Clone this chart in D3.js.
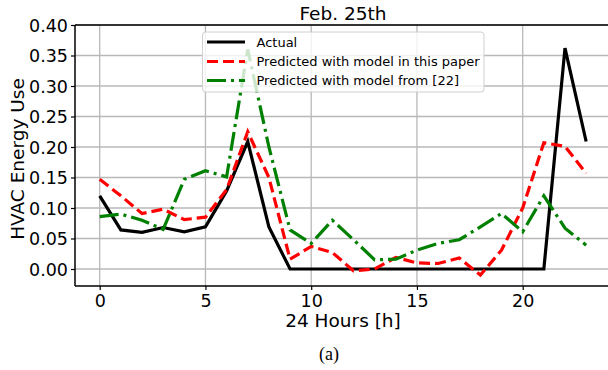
<!DOCTYPE html>
<html><head><meta charset="utf-8">
<script src="https://cdn.jsdelivr.net/npm/d3@7"></script>
<style>html,body{margin:0;padding:0;background:#fff;}svg{display:block;}</style>
</head><body>
<svg id="chart" width="608" height="370"></svg>
<script>
const hours = d3.range(24);
const actual = [0.120,0.064,0.060,0.068,0.061,0.069,0.128,0.209,0.069,0,0,0,0,0,0,0,0,0,0,0,0,0,0.362,0.209];
const predictedPaper = [0.147,0.120,0.091,0.098,0.081,0.085,0.130,0.225,0.150,0.016,0.037,0.027,-0.003,0.000,0.019,0.010,0.009,0.018,-0.010,0.031,0.100,0.207,0.201,0.157];
const predictedRef22 = [0.086,0.090,0.080,0.065,0.147,0.161,0.151,0.360,0.200,0.064,0.042,0.080,0.048,0.015,0.016,0.031,0.042,0.048,0.069,0.091,0.061,0.120,0.067,0.039];
const xTicks = [0,5,10,15,20];
const yTicks = [0,0.05,0.10,0.15,0.20,0.25,0.30,0.35,0.40];
const legendLabels = ["Actual","Predicted with model in this paper","Predicted with model from [22]"];

(function(){
const svg = d3.select("#chart");
const pL = 75, pT = 25, pB = 286, pR = 608;
const x = d3.scaleLinear().domain([0,20]).range([99.7,522.7]);
const y = d3.scaleLinear().domain([0,0.4]).range([269,25]);
const font = "'DejaVu Sans', sans-serif";

svg.append("defs").append("clipPath").attr("id","clip")
  .append("rect").attr("x",pL).attr("y",pT).attr("width",pR-pL).attr("height",pB-pT);

// grid
const g = svg.append("g");
g.selectAll(".vg").data(xTicks).join("line")
  .attr("x1",d=>x(d)).attr("x2",d=>x(d)).attr("y1",pT).attr("y2",pB)
  .attr("stroke","#b8b8b8").attr("stroke-width",1.3);
g.selectAll(".hg").data(yTicks).join("line")
  .attr("x1",pL).attr("x2",pR).attr("y1",d=>y(d)).attr("y2",d=>y(d))
  .attr("stroke","#b8b8b8").attr("stroke-width",1.3);

// axes
const xAxis = d3.axisBottom(x).tickValues(xTicks).tickSize(4).tickPadding(5).tickFormat(d3.format("d"));
const yAxis = d3.axisLeft(y).tickValues(yTicks).tickSize(4).tickPadding(3).tickFormat(d3.format(".2f"));
const ax = svg.append("g").attr("transform",`translate(0,${pB})`).call(xAxis);
const ay = svg.append("g").attr("transform",`translate(${pL},0)`).call(yAxis);
[ax,ay].forEach(a=>{
  a.select(".domain").remove();
  a.selectAll("line").attr("stroke","#000").attr("stroke-width",1.2);
  a.selectAll("text").attr("font-family",font).attr("font-size","17.5px").attr("fill","#000");
});
ay.selectAll("text").attr("dy","0.36em");

// lines
const line = d3.line().x((d,i)=>x(hours[i])).y(d=>y(d));
const plot = svg.append("g").attr("clip-path","url(#clip)");
const series = [
  {v:actual, c:"#000000", dash:null},
  {v:predictedPaper, c:"#ff0000", dash:"11,5"},
  {v:predictedRef22, c:"#008000", dash:"19,5,3,5"}
];
series.forEach(s=>{
  plot.append("path").datum(s.v).attr("d",line).attr("fill","none")
    .attr("stroke",s.c).attr("stroke-width",3.2).attr("stroke-dasharray",s.dash);
});

// spines
svg.append("line").attr("x1",pL).attr("x2",pL).attr("y1",pT).attr("y2",pB).attr("stroke","#000").attr("stroke-width",1.5);
svg.append("line").attr("x1",pL).attr("x2",pR).attr("y1",pT).attr("y2",pT).attr("stroke","#000").attr("stroke-width",1.5);
svg.append("line").attr("x1",pL).attr("x2",pR).attr("y1",pB).attr("y2",pB).attr("stroke","#000").attr("stroke-width",1.5);

// legend
const lg = svg.append("g");
lg.append("rect").attr("x",202.5).attr("y",32).attr("width",281.5).attr("height",60).attr("rx",3)
  .attr("fill","#fff").attr("fill-opacity",0.8).attr("stroke","#d0d0d0").attr("stroke-width",1);
const rowsY = [42,61.5,80.5];
series.forEach((s,i)=>{
  lg.append("line").attr("x1",207).attr("x2",245).attr("y1",rowsY[i]).attr("y2",rowsY[i])
    .attr("stroke",s.c).attr("stroke-width",3.2).attr("stroke-dasharray",s.dash);
  lg.append("text").attr("x",256.5).attr("y",rowsY[i]).attr("dy","0.36em")
    .attr("font-family",font).attr("font-size","13px").attr("fill","#000").text(legendLabels[i]);
});

// titles
svg.append("text").attr("x",343).attr("y",20).attr("text-anchor","middle")
  .attr("font-family",font).attr("font-size","18.5px").text("Feb. 25th");
svg.append("text").attr("x",343).attr("y",327).attr("text-anchor","middle")
  .attr("font-family",font).attr("font-size","18.5px").text("24 Hours [h]");
svg.append("text").attr("transform","translate(24,159) rotate(-90)").attr("text-anchor","middle")
  .attr("font-family",font).attr("font-size","18.5px").text("HVAC Energy Use");
svg.append("text").attr("x",329).attr("y",360).attr("text-anchor","middle")
  .attr("font-family","'Liberation Serif', 'Times New Roman', serif").attr("font-size","18px").text("(a)");
})();
</script>
</body></html>
